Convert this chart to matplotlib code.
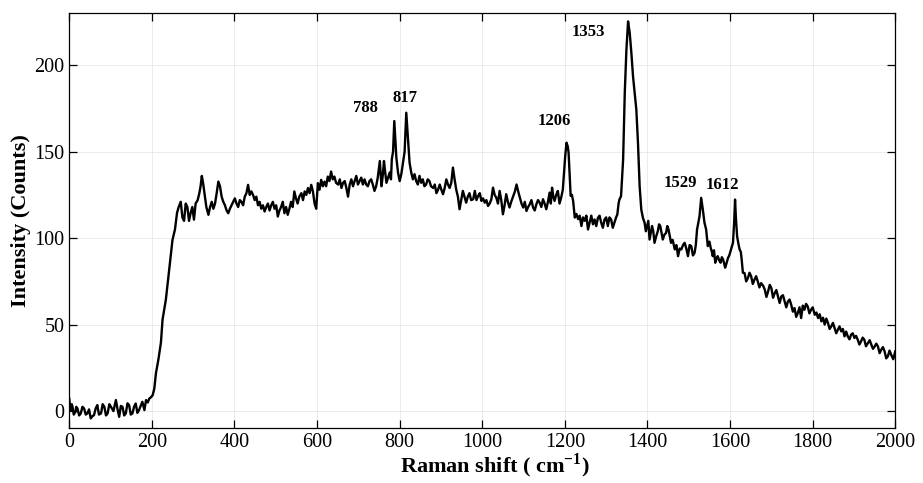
import matplotlib.pyplot as plt

plt.rcParams['font.family'] = 'Liberation Serif'
plt.rcParams['mathtext.fontset'] = 'custom'
plt.rcParams['mathtext.rm'] = 'Liberation Serif'
plt.rcParams['mathtext.bf'] = 'Liberation Serif:bold'

# Raman spectrum, (shift cm-1, counts) per region
baseline = [(0, 7.3), (2, 3), (4, 0.6), (6, 4), (8, 2.5), (11, -2), (15, -0.4), (17, 2.5), (20, 1.5), (24, -2.5),
            (28, -1.3), (32, 2.5), (36, 1.5), (40, -2), (44, -1.3), (48, 1), (52, -4.2), (56, -3), (60, -2.3), (64, 1.5),
            (68, 3.5), (72, -2), (77, -1.3), (81, 4), (85, 2.5), (89, -2.5), (93, -1.3), (97, 4), (101, 2.5), (107, 0),
            (113, 6.4), (117, 1), (121, -3.3), (125, 3), (129, 2.5), (133, -2.5), (137, -1.3), (141, 4.5), (145, 3.5),
            (149, -2), (153, -1.3), (157, 2.5), (161, 4.4), (165, -1), (169, 0.6), (173, 3), (177, 5.4), (182, 0.6),
            (186, 6.4), (190, 5), (194, 7.3), (198, 8), (202, 9.2)]
rise = [(206, 13), (210, 22), (216, 30), (222, 39.6), (226, 53), (234, 64.5), (242, 82), (250, 99), (256, 105),
        (261, 114.6), (265, 118), (270, 121), (274, 112), (278, 110), (282, 120), (286, 118), (290, 110), (294, 114.6),
        (298, 118), (302, 110.7), (306, 120), (311, 122), (315, 126), (318, 130), (321, 136), (324, 132), (328, 125),
        (332, 118)]
plateau = [(337, 113.5), (341, 118), (345, 121), (349, 117), (353, 120), (357, 126), (361, 132.7), (365, 130),
           (369, 124), (373, 121), (377, 119), (381, 116), (385, 114.4), (389, 117), (393, 119), (397, 121), (401, 123),
           (405, 120), (409, 118), (413, 122), (417, 121), (421, 119), (425, 124), (429, 126), (433, 130.8), (437, 125),
           (441, 127), (445, 125), (449, 122), (453, 124), (457, 119), (461, 121), (465, 117), (469, 119), (473, 115.4),
           (477, 118), (481, 120), (485, 116), (489, 119), (493, 121), (497, 117), (501, 119), (505, 112.5), (509, 116),
           (513, 118), (517, 121), (521, 114.4), (525, 118), (529, 113.5), (533, 117), (537, 121), (541, 118), (545, 127),
           (549, 123), (553, 120), (557, 124), (562, 126), (566, 122), (570, 127), (574, 125), (578, 129), (582, 126),
           (586, 130.8), (590, 127), (594, 120), (598, 117), (602, 131.8), (606, 128), (610, 133.7), (614, 130),
           (618, 132.7), (622, 130), (626, 135.6), (630, 133), (634, 138.5), (638, 134), (642, 135.6), (646, 132),
           (651, 131), (655, 134), (659, 129), (663, 132), (667, 133), (671, 129), (675, 124), (679, 131), (683, 134),
           (687, 130), (691, 133), (695, 136), (699, 131), (703, 133), (707, 135), (711, 131), (715, 134), (719, 131),
           (723, 130), (727, 133), (731, 134), (735, 131), (739, 127.3), (743, 130), (747, 135), (752, 144.6), (756, 130),
           (759, 136), (762, 144.6), (765, 138), (768, 132), (772, 135), (776, 138), (779, 134), (781, 145.6), (784, 150),
           (787, 167.7), (790, 155), (792, 146.5), (796, 138), (800, 133), (804, 137), (808, 143.6), (812, 150),
           (816, 172.5), (820, 158), (824, 143.6), (828, 138), (832, 134), (836, 137), (840, 133), (844, 131), (848, 136),
           (852, 132), (856, 134), (860, 130), (864, 131), (868, 134), (872, 133), (876, 130), (881, 129), (885, 131),
           (889, 126), (893, 128), (897, 131), (901, 128), (905, 125.4), (909, 129), (913, 134), (917, 131), (921, 129),
           (925, 132), (929, 140.8), (933, 134), (937, 128), (941, 124), (945, 116.7), (949, 122), (953, 127.3),
           (957, 124), (961, 120.5), (965, 124), (969, 126), (973, 122), (978, 122.5)]
middle = [(982, 127.3), (986, 122), (990, 124.4), (994, 126), (998, 121.5), (1002, 123), (1006, 120.5), (1010, 122),
          (1014, 118.6), (1018, 120), (1022, 122.5), (1026, 129.2), (1030, 125), (1034, 123.4), (1038, 120),
          (1042, 127.3), (1046, 122), (1050, 113.8), (1054, 119), (1058, 125.4), (1062, 121), (1066, 117.7),
          (1070, 121), (1075, 124.4), (1079, 127), (1083, 131), (1087, 127), (1091, 123.4), (1095, 120), (1099, 117.7),
          (1103, 121), (1107, 115.7), (1111, 118), (1115, 119.6), (1119, 122), (1123, 117.7), (1127, 116), (1131, 119.6),
          (1135, 122), (1139, 120.5), (1143, 118), (1147, 122.5), (1151, 120), (1155, 116.7), (1159, 121), (1163, 126.3),
          (1166, 120), (1169, 129.2), (1172, 124), (1175, 121.5), (1179, 125), (1183, 127.3), (1187, 120), (1191, 123.4),
          (1195, 128), (1198, 138), (1201, 148), (1204, 155.2), (1207, 153), (1209, 149.4), (1212, 135), (1214, 124.4),
          (1217, 125), (1220, 121.5), (1224, 111.9), (1228, 114), (1232, 111), (1236, 113), (1240, 107), (1244, 112),
          (1248, 110), (1252, 113), (1256, 105), (1260, 109), (1264, 113), (1268, 108), (1272, 110.8), (1276, 107),
          (1280, 111.7), (1284, 113), (1288, 108.9), (1292, 106), (1296, 110.8), (1300, 112), (1304, 107), (1308, 112),
          (1312, 110.8), (1316, 106), (1320, 108.9), (1324, 112), (1327, 113.7), (1330, 120)]
main_peak = [(1332, 122.3), (1336, 124.3), (1341, 145.4), (1345, 184), (1349, 209), (1353, 225.3), (1357, 218.6),
             (1361, 207), (1365, 193.5), (1369, 184), (1373, 174.3), (1377, 155), (1381, 130)]
shoulder = [(1385, 116.5), (1389, 111.7), (1393, 108.9), (1396, 104), (1399, 107), (1402, 110), (1405, 99.2),
            (1408, 103), (1411, 107), (1414, 104), (1417, 97.3), (1421, 101), (1425, 104), (1428, 108), (1431, 107),
            (1434, 103), (1437, 99.2), (1441, 102), (1445, 103), (1448, 107), (1451, 105), (1454, 101), (1457, 97.3),
            (1461, 99), (1466, 93.5), (1470, 96), (1474, 89.6), (1478, 94), (1482, 93.5), (1486, 96), (1490, 97.3),
            (1494, 94), (1498, 89.6), (1502, 96), (1506, 95.4), (1510, 90), (1514, 91.5), (1517, 96), (1520, 105),
            (1526, 112.7), (1530, 123.3), (1534, 116.5), (1538, 108.9), (1542, 105), (1546, 95.4), (1550, 98),
            (1553, 94.4), (1556, 92), (1558, 89.6), (1561, 93), (1564, 85.8), (1567, 88), (1570, 89.6), (1574, 87),
            (1577, 85.8), (1580, 89), (1583, 87.7), (1586, 85), (1588, 82.9), (1592, 86), (1595, 88.6), (1598, 90),
            (1601, 92.5), (1604, 95), (1607, 97.3), (1610, 110), (1612, 122.3), (1614, 112), (1617, 101), (1620, 97),
            (1623, 93.5), (1626, 92), (1628, 87.7), (1631, 80)]
tail = [(1635, 79.8), (1639, 75), (1643, 76.9), (1647, 80), (1651, 77.9), (1655, 73.5), (1659, 76), (1663, 78),
        (1667, 75), (1671, 71.5), (1675, 74), (1680, 72.5), (1684, 70.2), (1688, 66), (1692, 69.2), (1696, 73),
        (1700, 71.1), (1704, 65.5), (1708, 68.2), (1712, 70), (1716, 66.3), (1720, 62.5), (1724, 66.3), (1728, 67),
        (1732, 63.4), (1736, 60), (1740, 63.4), (1744, 64.5), (1748, 61.5), (1752, 57.5), (1756, 59.6), (1760, 54.5),
        (1764, 56.7), (1768, 60), (1772, 53.8), (1776, 61), (1780, 58.6), (1784, 62), (1788, 60.5), (1792, 56.5),
        (1796, 58.6), (1800, 60), (1805, 55.7), (1809, 57), (1813, 53.8), (1817, 56), (1821, 51.9), (1825, 54),
        (1829, 50), (1833, 53.5), (1837, 50.9), (1841, 47.5), (1845, 49), (1849, 51), (1853, 48), (1857, 45),
        (1861, 47.1), (1865, 49), (1869, 46.1), (1873, 47.5), (1877, 43.2), (1881, 46), (1885, 43.2), (1889, 41.5),
        (1893, 44.2), (1897, 45), (1901, 42.3), (1905, 43.5), (1909, 41.3), (1913, 38.5), (1917, 40.3), (1921, 42.5),
        (1925, 41.3), (1929, 37.5), (1934, 39.4), (1938, 41), (1942, 38.4), (1946, 36), (1950, 37.4), (1954, 39),
        (1958, 37.4), (1962, 33.5), (1966, 35.5), (1970, 37), (1974, 34.6), (1978, 30.5), (1982, 31.7), (1986, 35),
        (1990, 32.6), (1995, 30), (2000, 34.6)]

# peak labels
peak_labels = ['788', '817', '1206', '1353', '1529', '1612']
label_x = [718, 812, 1175, 1258, 1480, 1581]
label_y = [175, 181, 168, 219, 132, 131]

spectrum = baseline + rise + plateau + middle + main_peak + shoulder + tail
raman_shift = [p[0] for p in spectrum]
intensity = [p[1] for p in spectrum]

fig = plt.figure(figsize=(9.23, 4.83), dpi=100)
ax = fig.add_axes([0.075, 0.113, 0.895, 0.8595])
ax.plot(raman_shift, intensity, color='k', linewidth=1.7)

for lab, lx, ly in zip(peak_labels, label_x, label_y):
    ax.text(lx, ly, lab, fontsize=12, fontweight='bold', ha='center', va='center')

ax.set_xlim(0, 2000)
ax.set_ylim(-10, 230)
ax.set_xticks(range(0, 2001, 200))
ax.set_yticks(range(0, 201, 50))
ax.tick_params(direction='in', top=True, right=True, length=6, width=0.9, labelsize=14.5)
for sp in ax.spines.values():
    sp.set_linewidth(0.9)
ax.grid(True, color='#e8e8e8', linewidth=0.6)
ax.set_xlabel(r'Raman shift ( cm$^{\mathbf{-1}}$)', fontsize=16, fontweight='bold', labelpad=0)
ax.xaxis.set_label_coords(0.515, -0.056)
ax.set_ylabel('Intensity (Counts)', fontsize=16, fontweight='bold', labelpad=2)

fig.savefig('out.png', dpi=100)
